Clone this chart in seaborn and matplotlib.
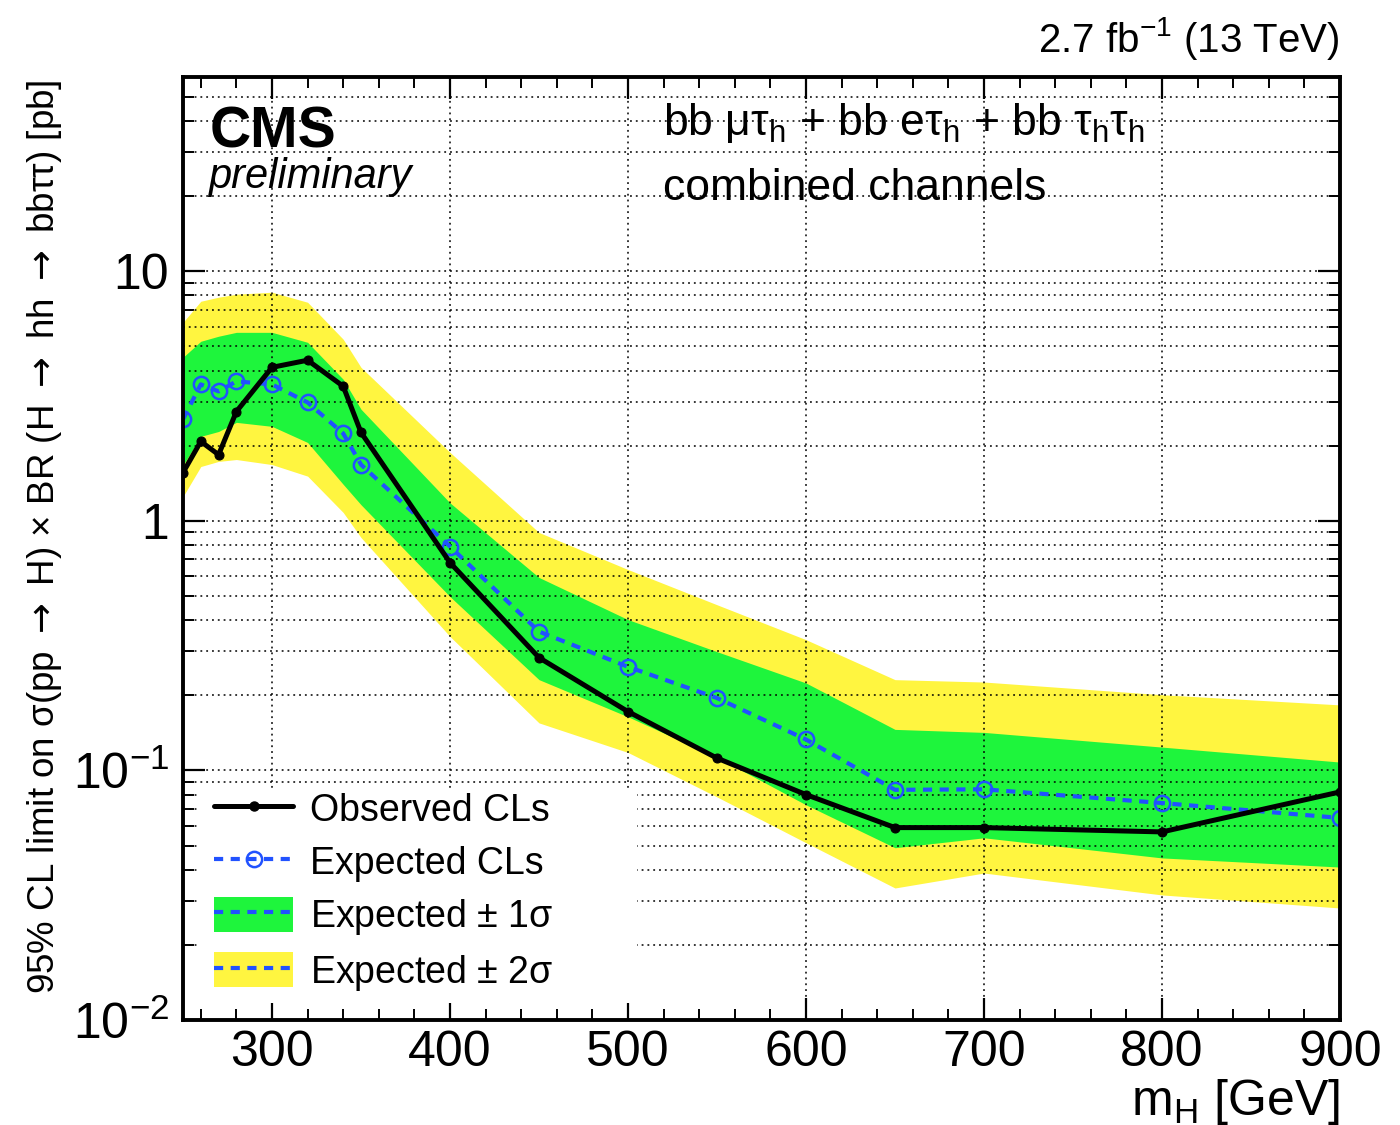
import numpy as np
import pandas as pd
import matplotlib
matplotlib.use("Agg")
import matplotlib.pyplot as plt
import seaborn as sns
from matplotlib.patches import Patch, Rectangle
from matplotlib.lines import Line2D
from matplotlib.ticker import FixedLocator, NullFormatter, MultipleLocator, LogLocator

# ---------------- data ----------------
mass = [250, 260, 270, 280, 300, 320, 340, 350, 400, 450, 500, 550, 600, 650, 700, 800, 900]
observed = [1.56, 2.08, 1.84, 2.74, 4.12, 4.40, 3.46, 2.26, 0.68, 0.283, 0.172, 0.112,
            0.080, 0.059, 0.059, 0.0567, 0.082]
expected = [2.55, 3.52, 3.30, 3.62, 3.52, 2.98, 2.24, 1.68, 0.789, 0.36, 0.26, 0.195,
            0.133, 0.0836, 0.084, 0.074, 0.0645]
exp_minus2 = [1.25, 1.65, 1.73, 1.76, 1.68, 1.51, 1.08, 0.857, 0.344, 0.155, 0.118, 0.0783,
              0.0513, 0.0338, 0.0388, 0.0317, 0.0281]
exp_minus1 = [1.67, 2.18, 2.28, 2.48, 2.39, 2.06, 1.40, 1.16, 0.497, 0.231, 0.164, 0.113,
              0.0728, 0.0490, 0.0537, 0.0446, 0.0410]
exp_plus1 = [4.52, 5.24, 5.49, 5.69, 5.69, 5.19, 3.69, 2.80, 1.18, 0.593, 0.402, 0.299,
             0.224, 0.146, 0.142, 0.124, 0.108]
exp_plus2 = [6.24, 7.58, 7.87, 8.09, 8.24, 7.51, 5.34, 4.12, 1.88, 0.898, 0.638, 0.461,
             0.334, 0.231, 0.226, 0.201, 0.183]

y_tick_values = [0.01, 0.1, 1, 10]
y_tick_labels = [r"$10^{-2}$", r"$10^{-1}$", "1", "10"]
legend_labels = ["Observed CLs", "Expected CLs", "Expected $\\pm$ 1σ", "Expected $\\pm$ 2σ"]

# ---------------- style ----------------
sns.set_theme(style="ticks")
plt.rcParams["font.family"] = ["Liberation Sans", "DejaVu Sans"]
plt.rcParams["mathtext.fontset"] = "custom"
plt.rcParams["mathtext.rm"] = "Liberation Sans"
plt.rcParams["mathtext.it"] = "Liberation Sans:italic"
plt.rcParams["mathtext.bf"] = "Liberation Sans:bold"
plt.rcParams["mathtext.sf"] = "Liberation Sans"
plt.rcParams["text.color"] = "black"
plt.rcParams["axes.labelcolor"] = "black"
plt.rcParams["xtick.color"] = "black"
plt.rcParams["ytick.color"] = "black"

GREEN = "#1ef53c"
YELLOW = "#fff540"
BLUE = "#2152ff"

fig = plt.figure(figsize=(14, 11.25), dpi=100)
ax = fig.add_axes([183 / 1400, 1 - 1020 / 1125, (1340 - 183) / 1400, (1020 - 77) / 1125])

df = pd.DataFrame({"mass": mass, "observed": observed, "expected": expected,
                   "m2": exp_minus2, "m1": exp_minus1, "p1": exp_plus1, "p2": exp_plus2})

# bands
ax.fill_between(df["mass"], df["m2"], df["p2"], color=YELLOW, lw=0, zorder=1.0)
ax.fill_between(df["mass"], df["m1"], df["p1"], color=GREEN, lw=0, zorder=1.1)

ax.set_yscale("log")
ax.set_xlim(250, 900)
ax.set_ylim(0.01, 60)

# dotted grid (major x, all y ticks)
grid_kw = dict(color="black", lw=1.1, ls=(0, (1.2, 2.6)), zorder=1.5)
for xv in range(300, 900, 100):
    ax.axvline(xv, **grid_kw)
for dec in [0.01, 0.1, 1, 10]:
    for k in range(1, 10):
        v = k * dec
        if 0.01 < v < 60:
            ax.axhline(v, **grid_kw)

# white legend background that hides the grid
ax.add_patch(Rectangle((0.012, 0.018), (637 - 183) / 1157 - 0.012, 0.2455 - 0.018,
                       transform=ax.transAxes, facecolor="white", edgecolor="none", zorder=1.8))

# lines
sns.lineplot(data=df, x="mass", y="expected", ax=ax, color=BLUE, lw=3.0,
             linestyle=(0, (2.2, 1.8)), marker="o", markersize=11,
             markerfacecolor="none", markeredgecolor=BLUE, markeredgewidth=1.8,
             zorder=3, legend=False)
sns.lineplot(data=df, x="mass", y="observed", ax=ax, color="black", lw=3.6,
             marker="o", markersize=6.5, markeredgecolor="black",
             zorder=3.2, legend=False)

# axes styling
ax.set_xlabel("")
ax.set_ylabel("")
ax.xaxis.set_major_locator(MultipleLocator(100))
ax.xaxis.set_minor_locator(MultipleLocator(20))
ax.yaxis.set_major_locator(FixedLocator(y_tick_values))
ax.set_yticklabels(y_tick_labels)
ax.yaxis.set_minor_locator(LogLocator(base=10, subs=np.arange(2, 10), numticks=20))
ax.yaxis.set_minor_formatter(NullFormatter())
ax.tick_params(which="both", direction="in", top=True, right=True, labelsize=36,
               pad=10, color="black", labelcolor="black")
ax.tick_params(axis="x", which="both", pad=7)
ax.tick_params(which="major", length=16, width=1.6)
ax.tick_params(which="minor", length=8, width=1.4)
for s in ax.spines.values():
    s.set_linewidth(2.8)
    s.set_color("black")
    s.set_zorder(4)
ax.set_facecolor("white")

# legend
h_obs = Line2D([], [], color="black", lw=3.6, marker="o", markersize=6.5)
h_exp = Line2D([], [], color=BLUE, lw=3.0, ls=(0, (2.2, 1.8)), marker="o", markersize=11,
               markerfacecolor="none", markeredgecolor=BLUE, markeredgewidth=1.8)
h_dash = Line2D([], [], color=BLUE, lw=3.0, ls=(0, (2.2, 1.8)))
h_1s = (Patch(facecolor=GREEN, edgecolor="none"), h_dash)
h_2s = (Patch(facecolor=YELLOW, edgecolor="none"), h_dash)
leg = ax.legend([h_obs, h_exp, h_1s, h_2s], legend_labels, loc="upper left",
                bbox_to_anchor=(0.027, 0.243), frameon=False, fontsize=27,
                borderaxespad=0, borderpad=0, handlelength=2.1, handleheight=1.05,
                handletextpad=0.45, labelspacing=0.40)
leg.set_zorder(5)
for t in leg.get_texts():
    t.set_color("black")

# texts
fig.text(210 / 1400, 1 - 147 / 1125, "CMS", fontsize=41, fontweight="bold", va="baseline")
fig.text(208 / 1400, 1 - 188 / 1125, "preliminary", fontsize=30, style="italic", va="baseline")
fig.text(663 / 1400, 1 - 135 / 1125,
         r"bb μτ$_\mathrm{h}$ + bb eτ$_\mathrm{h}$ + bb τ$_\mathrm{h}$τ$_\mathrm{h}$",
         fontsize=32, va="baseline")
fig.text(663 / 1400, 1 - 200 / 1125, "combined channels", fontsize=32, va="baseline")
fig.text(1340 / 1400, 1 - 52 / 1125, r"2.7 fb$^{-1}$ (13 TeV)", fontsize=29,
         ha="right", va="baseline")
fig.text(1340 / 1400, 1 - 1115 / 1125, r"m$_\mathrm{H}$ [GeV]", fontsize=36,
         ha="right", va="baseline")
fig.text(45 / 1400, 1 - 537 / 1125,
         r"95% CL limit on σ(pp $\rightarrow$ H) × BR (H $\rightarrow$ hh $\rightarrow$ bbττ) [pb]",
         fontsize=26.5, rotation=90, ha="center", va="center", math_fontfamily="dejavusans")

fig.savefig("out.png", dpi=100)
